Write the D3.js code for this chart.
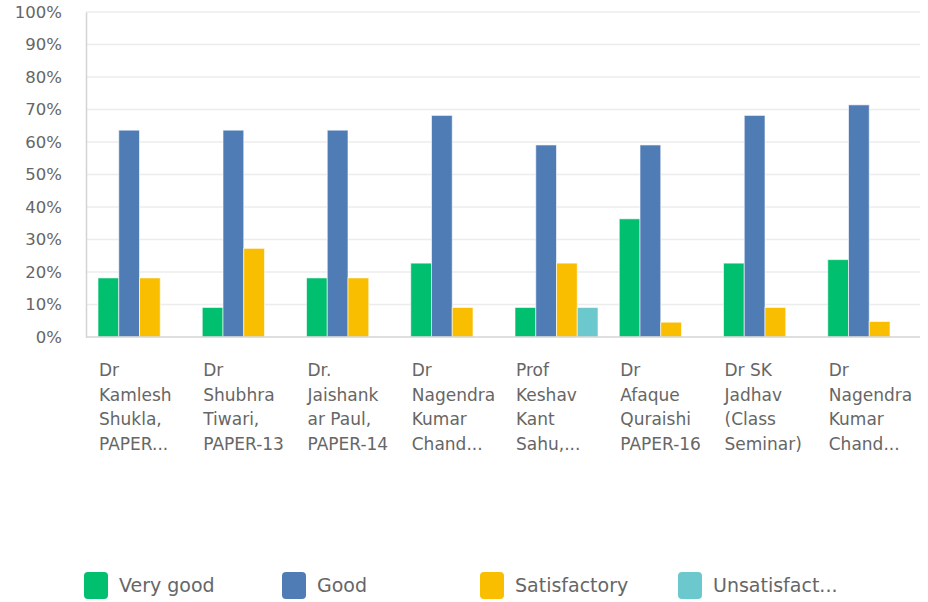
<!DOCTYPE html>
<html><head><meta charset="utf-8">
<script src="https://cdn.jsdelivr.net/npm/d3@7"></script>
<style>body{margin:0;background:#fff}svg{display:block}</style>
</head><body><svg id="c" width="928" height="602"></svg>
<script>
const categories = [
  ["Dr","Kamlesh","Shukla,","PAPER..."],
  ["Dr","Shubhra","Tiwari,","PAPER-13"],
  ["Dr.","Jaishank","ar Paul,","PAPER-14"],
  ["Dr","Nagendra","Kumar","Chand..."],
  ["Prof","Keshav","Kant","Sahu,..."],
  ["Dr","Afaque","Quraishi","PAPER-16"],
  ["Dr SK","Jadhav","(Class","Seminar)"],
  ["Dr","Nagendra","Kumar","Chand..."]
];
const seriesNames = ["Very good","Good","Satisfactory","Unsatisfact..."];
const seriesColors = ["#00bf6f","#507cb6","#f9be00","#6bc8cd"];
const veryGood       = [18.18, 9.09, 18.18, 22.73, 9.09, 36.36, 22.73, 23.81];
const good           = [63.64, 63.64, 63.64, 68.18, 59.09, 59.09, 68.18, 71.43];
const satisfactory   = [18.18, 27.27, 18.18, 9.09, 22.73, 4.55, 9.09, 4.76];
const unsatisfactory = [0, 0, 0, 0, 9.09, 0, 0, 0];
const yTicks = [0,10,20,30,40,50,60,70,80,90,100];

const series = [veryGood, good, satisfactory, unsatisfactory];
const svg = d3.select("#c");
const m = {l:86, r:920, t:12, b:337};
const FONT = "'DejaVu Sans', sans-serif";

const x0 = d3.scaleBand().domain(d3.range(categories.length)).range([m.l, m.r]);
const x1 = d3.scaleBand().domain(d3.range(series.length)).range([12, 95]);
const y = d3.scaleLinear().domain([0,100]).range([m.b, m.t]);

// gridlines
svg.append("g").selectAll("line").data(yTicks.filter(d=>d>0)).join("line")
  .attr("x1", m.l).attr("x2", m.r).attr("y1", d=>y(d)).attr("y2", d=>y(d))
  .attr("stroke", "#ececec").attr("stroke-width", 1.5);

// y axis
const yAxis = d3.axisLeft(y).tickValues(yTicks).tickFormat(d=>d+"%").tickSize(0).tickPadding(24);
const ga = svg.append("g").attr("transform", `translate(${m.l},0)`).call(yAxis);
ga.select(".domain").attr("stroke", "#d4d4d4").attr("stroke-width", 1.5);
ga.selectAll("text").attr("font-family", FONT).attr("font-size", 16.5).attr("fill", "#666");

// bars
const groups = svg.append("g").selectAll("g").data(categories).join("g")
  .attr("transform", (d,i)=>`translate(${x0(i)},0)`);
groups.selectAll("rect").data((d,i)=>series.map((s,k)=>({k, v:s[i]})).filter(e=>e.v>0)).join("rect")
  .attr("x", e=>x1(e.k)).attr("width", x1.bandwidth())
  .attr("y", e=>y(e.v)).attr("height", e=>y(0)-y(e.v))
  .attr("fill", e=>seriesColors[e.k]).attr("stroke", "rgba(255,255,255,0.6)").attr("stroke-width", 1);

// bottom axis line
svg.append("line").attr("x1", m.l).attr("x2", m.r).attr("y1", m.b).attr("y2", m.b)
  .attr("stroke", "#d4d4d4").attr("stroke-width", 1.5);

// category labels
const lab = svg.append("g").selectAll("text").data(categories).join("text")
  .attr("font-family", FONT).attr("font-size", 17).attr("fill", "#666")
  .attr("transform", (d,i)=>`translate(${x0(i)+x1(0)+1},376)`);
lab.selectAll("tspan").data(d=>d).join("tspan")
  .attr("x", 0).attr("dy", (d,j)=>j===0?0:24.5).text(d=>d);

// legend
const lg = svg.append("g").selectAll("g").data(seriesNames).join("g")
  .attr("transform", (d,i)=>`translate(${84+i*198},572)`);
lg.append("rect").attr("width", 24).attr("height", 27).attr("rx", 4)
  .attr("fill", (d,i)=>seriesColors[i]);
lg.append("text").attr("x", 35).attr("y", 20).attr("font-family", FONT).attr("font-size", 19)
  .attr("fill", "#666").text(d=>d);
</script></body></html>
